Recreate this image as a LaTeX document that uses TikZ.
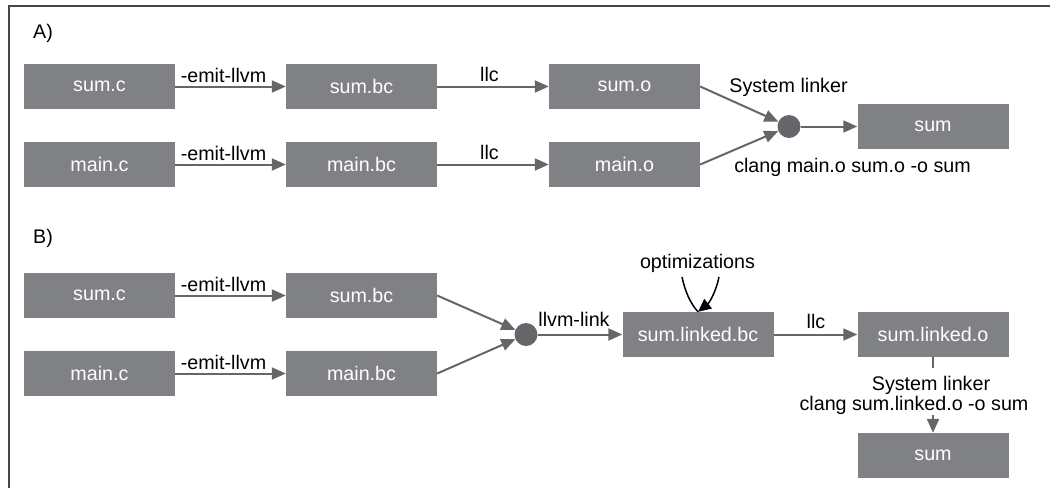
\documentclass[tikz,border=0pt]{standalone}
\usepackage{fontspec}
\setmainfont{Liberation Sans}
\usetikzlibrary{arrows.meta}
\definecolor{boxgray}{RGB}{128,129,133}
\definecolor{linegray}{RGB}{102,102,106}
\definecolor{framegray}{RGB}{70,70,72}
\begin{document}
\begin{tikzpicture}[x=1pt,y=-1pt,
  font=\fontsize{19.7}{23}\selectfont,
  filebox/.style={fill=boxgray,text=white,minimum width=151pt,minimum height=45pt,inner sep=0pt},
  joint/.style={circle,fill=linegray,minimum size=23pt,inner sep=0pt},
  flow/.style={draw=linegray,line width=2pt,-{Triangle[length=14pt,width=12pt]}},
  lbl/.style={inner sep=0pt,anchor=base},
  cmt/.style={fill=white,inner sep=0pt,anchor=base}]
\useasboundingbox (0,0) rectangle (1050,488);
% frame
\draw[framegray,line width=2pt] (8.5,488) -- (8.5,5.5) -- (1050,5.5);
% section A
\node[lbl,anchor=base west] (la) at (33,38) {A)};
\node[filebox] (sumc) at (99.5,86.5) {sum.c};
\node[filebox] (sumbc) at (361.5,86.5) {sum.bc};
\node[filebox] (sumo) at (624.5,86.5) {sum.o};
\node[filebox] (mainc) at (99.5,164.5) {main.c};
\node[filebox] (mainbc) at (361.5,164.5) {main.bc};
\node[filebox] (maino) at (624.5,164.5) {main.o};
\node[joint] (ja) at (789,126.5) {};
\node[filebox] (suma) at (933,126) {sum};
\draw[flow] (sumc) -- (sumbc);
\draw[flow] (sumbc) -- (sumo);
\draw[flow] (mainc) -- (mainbc);
\draw[flow] (mainbc) -- (maino);
\draw[flow] (sumo.east) -- (ja);
\draw[flow] (maino.east) -- (ja);
\draw[flow] (ja) -- (ja -| suma.west);
\node[lbl] (e1) at (223.5,82) {-emit-llvm};
\node[lbl] (l1) at (489.5,81) {llc};
\node[lbl] (e2) at (223.5,160) {-emit-llvm};
\node[lbl] (l2) at (489.5,159) {llc};
\node[lbl] (sla) at (788.5,92) {System linker};
\node[lbl] (cla) at (852.5,172) {clang main.o sum.o -o sum};
% section B
\node[lbl,anchor=base west] (lb) at (33,243) {B)};
\node[filebox] (sumcb) at (99.5,295.5) {sum.c};
\node[filebox] (sumbcb) at (361.5,295.5) {sum.bc};
\node[filebox] (maincb) at (99.5,373.5) {main.c};
\node[filebox] (mainbcb) at (361.5,373.5) {main.bc};
\node[joint] (jb) at (526,334.5) {};
\node[filebox] (slbc) at (698,334.5) {sum.linked.bc};
\node[filebox] (slo) at (933,334.5) {sum.linked.o};
\node[filebox] (sumb) at (933,455.5) {sum};
\draw[flow] (sumcb) -- (sumbcb);
\draw[flow] (maincb) -- (mainbcb);
\draw[flow] (sumbcb.east) -- (jb);
\draw[flow] (mainbcb.east) -- (jb);
\draw[flow] (jb) -- (slbc);
\draw[flow] (slbc) -- (slo);
\node[lbl] (e3) at (223.5,291) {-emit-llvm};
\node[lbl] (e4) at (223.5,369) {-emit-llvm};
\node[lbl] (ll) at (574,326) {llvm-link};
\node[lbl] (l3) at (816,328) {llc};
\node[lbl] (opt) at (697.5,268) {optimizations};
\draw[black,line width=1.5pt] (682,277) .. controls (685,291) and (690,303) .. (slbc.north);
\draw[black,line width=1.5pt,-{Triangle[length=13pt,width=12pt]}] (719,277) .. controls (716,292) and (709,303) .. (slbc.north);
\node[cmt] (slb) at (931,390) {System linker};
\node[cmt] (clb) at (914,410) {clang sum.linked.o -o sum};
\draw[linegray,line width=2pt] (slo.south) -- (slo.south |- 0,368);
\draw[flow] (sumb.north |- 0,415) -- (sumb.north);
\end{tikzpicture}
\end{document}
